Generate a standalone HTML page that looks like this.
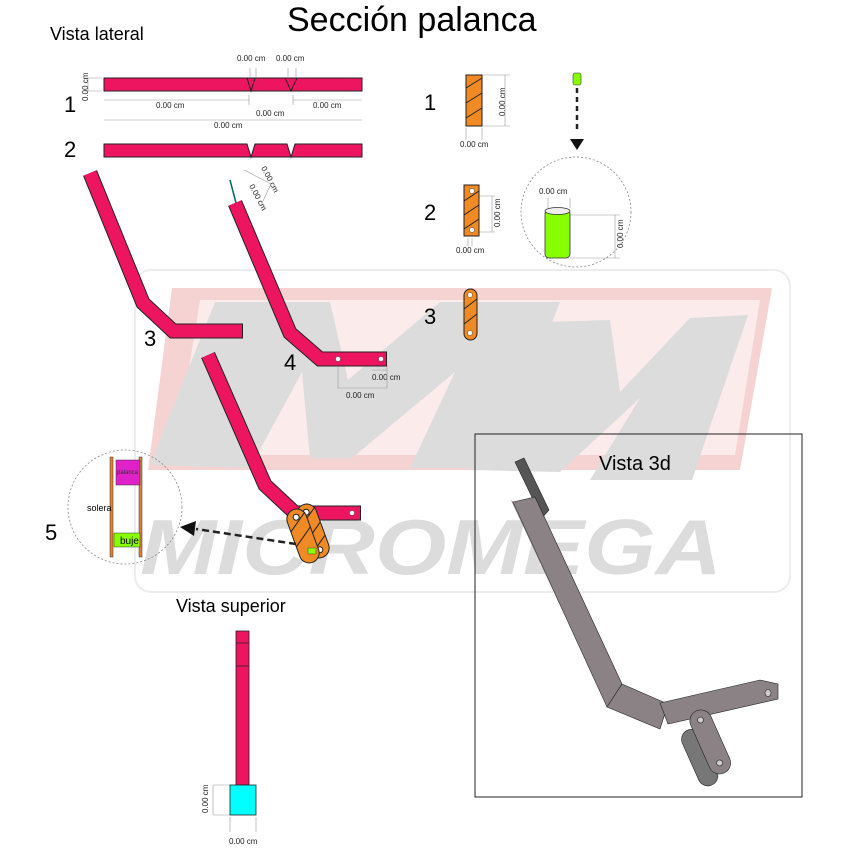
<!DOCTYPE html>
<html><head><meta charset="utf-8"><style>
html,body{margin:0;padding:0;background:#fff;}
svg{display:block;font-family:"Liberation Sans",sans-serif;}
</style></head><body>
<svg width="848" height="848" viewBox="0 0 848 848" xmlns="http://www.w3.org/2000/svg">
<!-- watermark -->
<rect x="135" y="270" width="655" height="322" rx="16" fill="#fff" stroke="#ececec" stroke-width="2"/>
<polygon points="172,288 772,288 740,470 148,470" fill="#f6d3d3"/>
<polygon points="200,300 760,300 735,455 175,455" fill="#fff" opacity="0.55"/>
<polygon points="150,465 215,302 330,302 348,380 440,302 560,302 495,468 410,468 455,372 352,458 310,458 302,372 250,468" fill="#dcdcdc"/>
<polygon points="470,470 545,322 610,320 620,392 690,318 748,315 692,480 590,480 640,398 560,472" fill="#dcdcdc"/>
<text x="140" y="574" font-size="78" font-weight="bold" font-style="italic" fill="#dcdcdc" textLength="582" lengthAdjust="spacingAndGlyphs">MICROMEGA</text>

<!-- titles -->
<text x="287" y="31" font-size="34">Sección palanca</text>
<text x="50" y="40" font-size="18">Vista lateral</text>
<text x="176" y="612" font-size="18">Vista superior</text>
<g font-size="22">
<text x="64" y="112">1</text><text x="64" y="157">2</text>
<text x="144" y="346">3</text><text x="284" y="370">4</text>
<text x="45" y="540">5</text>
<text x="424" y="110">1</text><text x="424" y="220">2</text><text x="424" y="324">3</text>
</g>

<!-- bar 1 -->
<g stroke="#222" stroke-width="1">
<rect x="104" y="78" width="258" height="13" fill="#ee1560"/>
<polyline points="247,78 251,91 255,78" fill="none"/>
<polyline points="285,78 291,91 297,78" fill="none"/>
<path d="M104,144 H247 L251,157 L255,144 H287 L291,157 L295,144 H362 V157 H104 Z" fill="#ee1560"/>
</g>
<g stroke="#999" stroke-width="0.6" fill="none">
<path d="M104,100 H249 M293,100 H362 M249,95 V105 M293,95 V105 M104,120 H362 M250,68 V78 M256,68 V78 M288,68 V78 M296,68 V78 M85,78 H102 M85,91 H102 M88,78 V91"/>
</g>
<g font-size="8" fill="#222">
<text x="237" y="61">0.00 cm</text><text x="276" y="61">0.00 cm</text>
<text x="156" y="108">0.00 cm</text><text x="313" y="108">0.00 cm</text>
<text x="256" y="116">0.00 cm</text><text x="214" y="128">0.00 cm</text>
<text transform="translate(88,101) rotate(-90)">0.00 cm</text>
<text transform="translate(261,168) rotate(62)">0.00 cm</text>
<text transform="translate(249,186) rotate(62)">0.00 cm</text>
<text x="372" y="380">0.00 cm</text><text x="346" y="398">0.00 cm</text>
<text x="460" y="147">0.00 cm</text><text transform="translate(505,116) rotate(-90)">0.00 cm</text>
<text x="456" y="253">0.00 cm</text><text transform="translate(500,227) rotate(-90)">0.00 cm</text>
<text x="539" y="194">0.00 cm</text><text transform="translate(623,248) rotate(-90)">0.00 cm</text>
<text transform="translate(208,813) rotate(-90)">0.00 cm</text><text x="229" y="844">0.00 cm</text>
</g>
<path d="M230,180 L236,203 M244,170 L271,184 L262,203" stroke="#999" stroke-width="0.6" fill="none"/>
<line x1="230" y1="180" x2="236" y2="203" stroke="#066" stroke-width="1.5"/>
<g stroke="#999" stroke-width="0.6" fill="none">
<path d="M338,365 V388 H387 V365 M372,370 H387"/>
<path d="M482,75 H510 M482,126 H510 M505,75 V126 M466,128 V140 M482,128 V140"/>
<path d="M479,196 H495 M479,232 H495 M492,196 V232 M468,238 V246 M472,238 V246"/>
<path d="M548,198 V208 M570,198 V208 M570,215 H620 M570,258 H620 M615,215 V258"/>
<path d="M213,785 V815 M213,785 H230 M213,815 H230 M230,817 V832 M256,817 V832"/>
</g>

<!-- bent parts -->
<g fill="none" stroke-linejoin="miter">
<polyline points="90,173 143,303 173,331 243,331" stroke="#222" stroke-width="15"/>
<polyline points="90,173 143,303 173,331 242,331" stroke="#ee1560" stroke-width="13"/>
<polyline points="235,203 290,333 320,359 387,359" stroke="#222" stroke-width="15"/>
<polyline points="235,203 290,333 320,359 386,359" stroke="#ee1560" stroke-width="13"/>
<polyline points="208,355 265,485 295,513 361,513" stroke="#222" stroke-width="15"/>
<polyline points="208,355 265,485 295,513 360,513" stroke="#ee1560" stroke-width="13"/>
</g>
<g fill="#fff" stroke="#444" stroke-width="0.5">
<circle cx="338" cy="359" r="2.5"/><circle cx="381" cy="359" r="2.5"/><circle cx="352" cy="513" r="2.5"/>
</g>
<!-- link on part 5 -->
<g transform="translate(313,531) rotate(-20)" stroke="#222" stroke-width="1">
<rect x="-10" y="-28" width="20" height="56" rx="10" fill="#f08a24"/>
<path d="M-10,-8 L10,-22 M-10,8 L10,-6 M-10,22 L10,8" fill="none"/>
<circle cx="0" cy="-20" r="3" fill="#fff"/><circle cx="0" cy="20" r="3" fill="#fff"/>
</g>
<g transform="translate(303,536) rotate(-20)" stroke="#222" stroke-width="1">
<rect x="-10" y="-28" width="20" height="56" rx="10" fill="#f08a24"/>
<path d="M-10,-8 L10,-22 M-10,8 L10,-6" fill="none"/>
<circle cx="0" cy="-20" r="3" fill="#fff"/>
</g>
<rect x="308" y="548" width="8" height="6" fill="#8f0" stroke="#444" stroke-width="0.5"/>
<line x1="296" y1="544" x2="196" y2="529" stroke="#222" stroke-width="2.5" stroke-dasharray="7,4"/>
<polygon points="180,527 196,521 194,536" fill="#111"/>

<!-- circle 5 -->
<circle cx="125" cy="507" r="57" fill="none" stroke="#888" stroke-width="0.8" stroke-dasharray="2,2"/>
<rect x="110" y="457" width="3" height="100" fill="#e08030" stroke="#333" stroke-width="0.5"/>
<rect x="139" y="457" width="3" height="100" fill="#e08030" stroke="#333" stroke-width="0.5"/>
<rect x="116" y="460" width="24" height="25" fill="#e020c8" stroke="#333" stroke-width="0.5"/>
<text x="117" y="474" font-size="6" fill="#333">palanca</text>
<rect x="114" y="533" width="26" height="14" fill="#8f0" stroke="#333" stroke-width="0.5"/>
<text x="120" y="544" font-size="10">buje</text>
<text x="87" y="511" font-size="9">solera</text>

<!-- right orange pieces -->
<g stroke="#222" stroke-width="1">
<rect x="466" y="75" width="16" height="51" fill="#f08a24"/>
<path d="M466,88 L482,78 M466,103 L482,93 M466,118 L482,108" fill="none"/>
<rect x="464" y="185" width="15" height="51" fill="#f08a24"/>
<path d="M464,201 L479,191 M464,215 L479,205 M464,229 L479,219" fill="none"/>
<rect x="464" y="289" width="13" height="51" rx="6.5" fill="#f08a24"/>
<path d="M464,309 L477,299 M464,324 L477,314" fill="none"/>
</g>
<g fill="#fff" stroke="#444" stroke-width="0.5">
<circle cx="472" cy="191" r="2.5"/><circle cx="472" cy="230" r="2.5"/>
<circle cx="470" cy="295" r="2.5"/><circle cx="470" cy="333" r="2.5"/>
</g>
<rect x="573" y="73" width="8" height="12" rx="2" fill="#8f0" stroke="#333" stroke-width="0.6"/>
<line x1="577" y1="88" x2="577" y2="130" stroke="#222" stroke-width="2.5" stroke-dasharray="5,4"/>
<polygon points="570,139 584,139 577,150" fill="#111"/>
<circle cx="576" cy="212" r="55" fill="none" stroke="#888" stroke-width="0.8" stroke-dasharray="2,2"/>
<rect x="545" y="210" width="25" height="48" rx="4" fill="#8f0" stroke="#333" stroke-width="0.8"/>
<ellipse cx="557.5" cy="211" rx="12.5" ry="3.5" fill="#eee" stroke="#333" stroke-width="0.8"/>

<!-- top view -->
<rect x="236" y="631" width="13" height="154" fill="#ee1560" stroke="#222" stroke-width="0.8"/>
<path d="M236,643 H249 M236,666 H249" stroke="#222" stroke-width="0.8"/>
<rect x="230" y="785" width="26" height="30" fill="#0ff" stroke="#222" stroke-width="0.8"/>

<!-- 3d view -->
<rect x="475" y="434" width="327" height="363" fill="none" stroke="#222" stroke-width="1"/>
<text x="599" y="470" font-size="20">Vista 3d</text>
<polygon points="515,462 524,458 549,510 542,518" fill="#555" stroke="#222" stroke-width="0.6"/>
<polygon points="513,502 535,497 622,684 607,707" fill="#8a8285" stroke="#222" stroke-width="0.6"/>
<polygon points="513,502 607,707 604,700 511,500" fill="#6f686a"/>
<polygon points="607,707 622,684 668,704 660,729" fill="#8a8285" stroke="#222" stroke-width="0.6"/>
<polygon points="660,703 760,680 778,684 778,699 668,724" fill="#8a8285" stroke="#222" stroke-width="0.6"/>
<g transform="translate(708,732) rotate(-24)">
<rect x="-28" y="-10" width="20" height="60" rx="10" fill="#777" stroke="#222" stroke-width="0.6"/>
<rect x="-13" y="-24" width="22" height="68" rx="11" fill="#8a8285" stroke="#222" stroke-width="0.6"/>
<circle cx="-2" cy="-14" r="3" fill="#ccc" stroke="#222" stroke-width="0.6"/>
<circle cx="-2" cy="33" r="3" fill="#ccc" stroke="#222" stroke-width="0.6"/>
</g>
<ellipse cx="768" cy="693" rx="3" ry="3.5" fill="#ccc" stroke="#222" stroke-width="0.6"/>
</svg>
</body></html>
